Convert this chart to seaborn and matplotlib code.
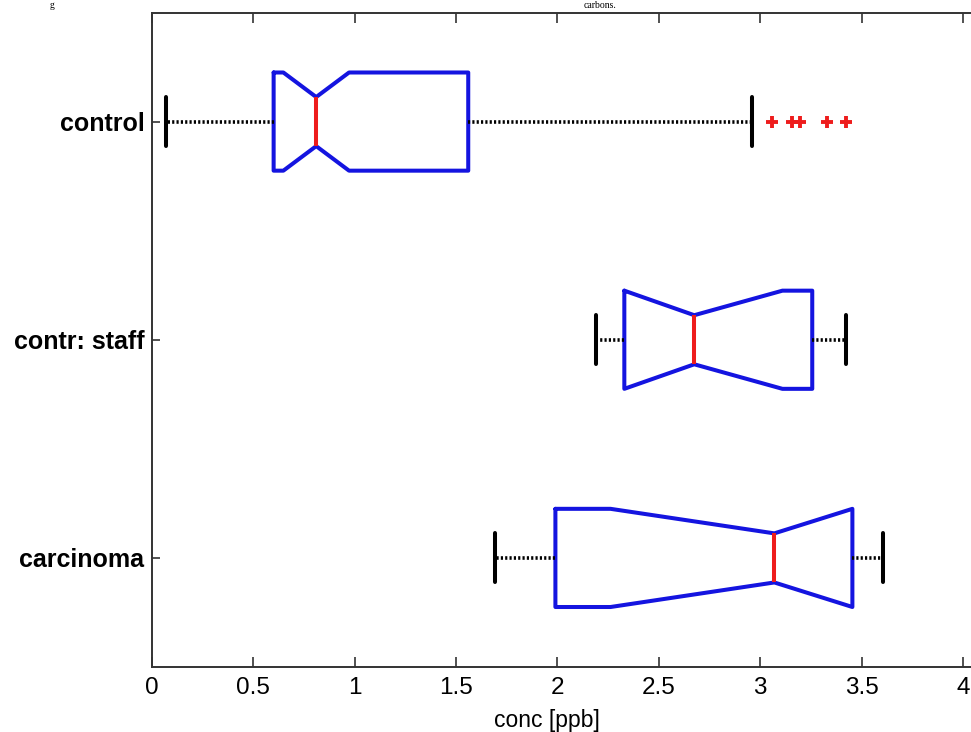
import matplotlib
matplotlib.use("Agg")
import matplotlib.pyplot as plt
import seaborn as sns
import numpy as np

# ---- data ----
categories = ["control", "contr: staff", "carcinoma"]
q1 = [0.60, 2.33, 1.99]
medians = [0.81, 2.675, 3.07]
q3 = [1.56, 3.257, 3.455]
whisker_lo = [0.07, 2.19, 1.69]
whisker_hi = [2.96, 3.425, 3.605]
notch_lo = [0.648, 2.33, 2.262]
notch_hi = [0.972, 3.11, 3.455]
outliers_control = [3.06, 3.155, 3.195, 3.33, 3.425]
outliers_staff = []
outliers_carcinoma = []
x_ticks = [0, 0.5, 1, 1.5, 2, 2.5, 3, 3.5, 4]
x_label = "conc [ppb]"

sns.set_style("ticks")
plt.rcParams["font.family"] = ["Liberation Sans", "DejaVu Sans"]
plt.rcParams["text.color"] = "black"
plt.rcParams["xtick.color"] = "#333333"
plt.rcParams["ytick.color"] = "#333333"
plt.rcParams["xtick.labelcolor"] = "black"
plt.rcParams["ytick.labelcolor"] = "black"
plt.rcParams["axes.labelcolor"] = "black"

fliers = [outliers_control, outliers_staff, outliers_carcinoma]
stats = []
for i, name in enumerate(categories):
    stats.append(dict(label=name, med=medians[i], q1=q1[i], q3=q3[i],
                      whislo=whisker_lo[i], whishi=whisker_hi[i],
                      cilo=notch_lo[i], cihi=notch_hi[i],
                      fliers=np.array(fliers[i])))

fig = plt.figure(figsize=(9.71, 7.32), dpi=100)
ax = fig.add_axes([152 / 971, 65 / 732, 821 / 971, 654.5 / 732])

blue = "#1414e0"
red = "#ee1c1c"
ax.bxp(stats, positions=range(len(categories)), widths=0.45, vert=False,
       shownotches=True, patch_artist=False,
       boxprops=dict(color=blue, linewidth=2.9, solid_joinstyle="round"),
       medianprops=dict(color=red, linewidth=2.9),
       whiskerprops=dict(color="black", linewidth=2.6, linestyle=(0, (0.6, 0.6))),
       capprops=dict(color="black", linewidth=2.9),
       flierprops=dict(marker="+", markeredgecolor=red, markersize=9,
                       markeredgewidth=2.8, linestyle="none"))

ax.set_xlim(0, 4.05)
ax.set_ylim(2.5, -0.5)
ax.set_xticks(x_ticks)
ax.set_xticklabels([f"{t:g}" for t in x_ticks], fontsize=17.5)
ax.set_yticks(range(len(categories)))
ax.set_yticklabels(categories, fontsize=18, fontweight="bold")

for side in ["left", "bottom", "top"]:
    ax.spines[side].set_color("#333333")
    ax.spines[side].set_linewidth(1.4)
ax.spines["right"].set_visible(False)
ax.tick_params(axis="x", direction="in", length=7, width=1.2,
               top=True, pad=7)
ax.tick_params(axis="y", direction="in", length=6, width=1.2,
               right=False, pad=5.5)

ax.set_xlabel(x_label, fontsize=16.5)
ax.xaxis.set_label_coords((547 - 152) / 821, -0.064)

# caption fragments visible at the top edge of the reference image
fig.text(52 / 971, 1 - 1 / 732, "g", family="Liberation Serif", fontsize=7,
         ha="center", va="top")
fig.text(600 / 971, 1 - 1 / 732, "carbons.", family="Liberation Serif", fontsize=7,
         ha="center", va="top")

fig.savefig("out.png", dpi=100, facecolor="white")
